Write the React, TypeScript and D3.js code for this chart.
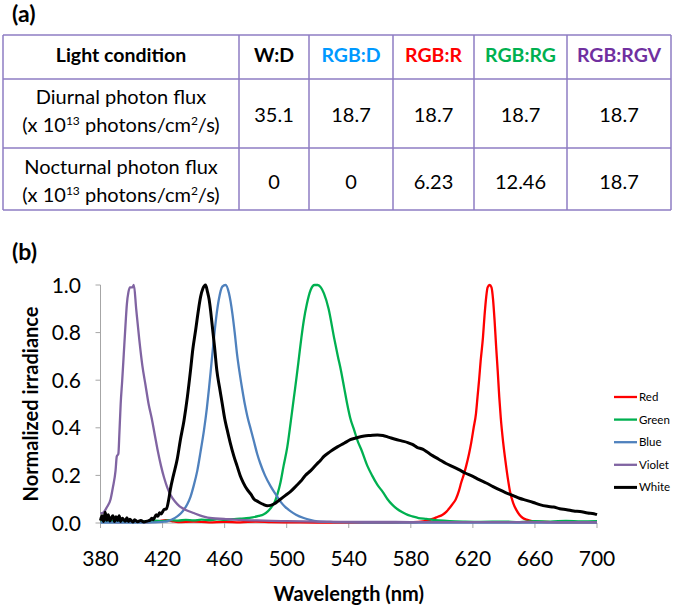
import React from 'react';
import * as d3 from 'd3';

const FONT = 'Lato, "Open Sans", "DejaVu Sans", sans-serif';

// ---- table data ----
const tableColumns = ['Light condition', 'W:D', 'RGB:D', 'RGB:R', 'RGB:RG', 'RGB:RGV'];
const columnColors = ['#000000', '#000000', '#0099ff', '#ff0000', '#00b050', '#7030a0'];
const rowLabels = ['Diurnal photon flux', 'Nocturnal photon flux'];
const diurnalFlux = ['35.1', '18.7', '18.7', '18.7', '18.7'];
const nocturnalFlux = ['0', '0', '6.23', '12.46', '18.7'];

// ---- chart axes ----
const xTicks = [380, 420, 460, 500, 540, 580, 620, 660, 700];
const yTicks = [0, 0.2, 0.4, 0.6, 0.8, 1.0];

// ---- spectra [wavelength nm, normalized irradiance] ----
const redSpectrum: [number, number][] = [
  [380, 0.01], [390, 0.004], [400, 0.006], [410, 0.004], [418, 0.008], [422, 0.012], [426, 0.008], [430, 0.004],
  [440, 0.006], [450, 0.003], [460, 0.005], [470, 0.003], [480, 0.006], [490, 0.004], [500, 0.003], [520, 0.002],
  [540, 0.002], [560, 0.002], [575, 0.003], [585, 0.005], [590, 0.009], [594, 0.017], [597, 0.025], [600.5, 0.035],
  [603, 0.048], [605, 0.063], [607, 0.08], [609, 0.1], [611, 0.135], [612.5, 0.17], [614, 0.2], [615.7, 0.24],
  [617.5, 0.29], [619, 0.34], [620.5, 0.4], [622, 0.46], [623, 0.53], [624, 0.6], [625, 0.68], [626.5, 0.78],
  [627.5, 0.87], [628.6, 0.95], [629.5, 0.99], [630.8, 1.0], [632, 0.99], [633, 0.94], [634, 0.85], [635, 0.74],
  [636, 0.64], [637, 0.53], [638, 0.44], [639.5, 0.34], [641, 0.26], [642.7, 0.18], [644, 0.13], [646, 0.084],
  [648, 0.055], [650, 0.035], [652, 0.022], [654.6, 0.014], [658, 0.008], [661, 0.006], [670, 0.004], [680, 0.003],
  [690, 0.003], [700, 0.003],
];

const greenSpectrum: [number, number][] = [
  [380, 0.008], [385, 0.005], [390, 0.01], [395, 0.006], [400, 0.008], [405, 0.005], [410, 0.007], [415, 0.01],
  [420, 0.008], [425, 0.012], [430, 0.01], [435, 0.013], [440, 0.011], [445, 0.014], [450, 0.012], [455, 0.015],
  [460, 0.013], [465, 0.016], [470, 0.018], [474, 0.02], [478, 0.024], [482, 0.03], [485, 0.036], [488, 0.05],
  [490, 0.065], [492, 0.084], [494, 0.12], [496, 0.17], [498, 0.24], [500.4, 0.32], [502.5, 0.42], [504.7, 0.53],
  [506.5, 0.62], [508, 0.7], [509.5, 0.78], [511, 0.85], [513, 0.92], [515.5, 0.98], [518, 1.0], [520, 1.0],
  [522, 0.99], [524, 0.965], [527, 0.9], [530.5, 0.78], [533, 0.7], [535, 0.64], [537, 0.57], [539, 0.5],
  [541, 0.44], [543.5, 0.39], [546, 0.34], [548, 0.31], [552, 0.24], [555, 0.2], [558.5, 0.16], [562, 0.13],
  [565, 0.1], [568, 0.077], [571, 0.06], [574.6, 0.045], [578, 0.034], [581, 0.028], [585, 0.021], [590, 0.017],
  [598, 0.011], [605, 0.008], [615, 0.006], [625, 0.005], [640, 0.006], [650, 0.004], [660, 0.008], [670, 0.006],
  [680, 0.009], [690, 0.007], [700, 0.008],
];

const blueSpectrum: [number, number][] = [
  [380, 0.002], [400, 0.002], [415, 0.003], [420, 0.005], [423, 0.007], [426, 0.015], [429.5, 0.028], [432, 0.042],
  [433.8, 0.056], [436, 0.08], [438, 0.11], [440, 0.155], [442.4, 0.22], [444.5, 0.3], [446.7, 0.39], [448.5, 0.48],
  [450, 0.57], [451.5, 0.67], [453, 0.77], [454.5, 0.86], [456.3, 0.94], [458.5, 0.993], [460.6, 1.0], [462.8, 0.965],
  [465, 0.88], [466.5, 0.8], [468, 0.71], [469.7, 0.63], [471.4, 0.56], [473, 0.5], [474.6, 0.45], [477, 0.39],
  [479, 0.34], [481, 0.29], [483, 0.25], [486, 0.2], [489.7, 0.154], [493, 0.12], [496, 0.09], [499, 0.068],
  [502.6, 0.049], [506, 0.035], [511, 0.021], [515, 0.013], [520, 0.007], [530, 0.004], [550, 0.002], [600, 0.002],
  [700, 0.002],
];

const violetSpectrum: [number, number][] = [
  [380, 0.04], [382, 0.045], [384, 0.065], [386.5, 0.1], [388, 0.15], [389.7, 0.22], [390.5, 0.28], [391.5, 0.29],
  [392.2, 0.38], [393, 0.5], [394, 0.6], [395, 0.71], [396, 0.82], [397, 0.92], [398, 0.97], [399, 0.99],
  [400.5, 0.99], [401.5, 1.0], [403, 0.9], [405, 0.77], [407, 0.66], [409, 0.58], [411, 0.5], [413, 0.44],
  [415, 0.37], [417, 0.3], [419, 0.24], [421, 0.19], [423, 0.15], [425, 0.12], [428, 0.09], [431, 0.07],
  [435, 0.055], [440, 0.042], [446, 0.028], [452, 0.02], [459.6, 0.017], [466, 0.014], [473, 0.012], [481, 0.011],
  [490, 0.009], [500, 0.008], [520, 0.006], [540, 0.005], [560, 0.005], [580, 0.004], [600, 0.004], [620, 0.004],
  [640, 0.004], [660, 0.004], [680, 0.004], [700, 0.004],
];

const whiteSpectrum: [number, number][] = [
  [380, 0.01], [381, 0.03], [382, 0.006], [383, 0.045], [384, 0.012], [385, 0.035], [386, 0.008], [387, 0.022],
  [388, 0.03], [389, 0.006], [390, 0.026], [391, 0.01], [392, 0.03], [393, 0.006], [394, 0.02], [395, 0.014],
  [396, 0.007], [397, 0.022], [398, 0.006], [399, 0.016], [400, 0.009], [401, 0.004], [402, 0.014], [404, 0.005],
  [406, 0.011], [408, 0.004], [410, 0.008], [412, 0.012], [413, 0.02], [414, 0.014], [416, 0.035], [417, 0.028],
  [418, 0.043], [419, 0.038], [420.9, 0.056], [422.5, 0.06], [424, 0.1], [425, 0.14], [427, 0.2], [429.5, 0.27],
  [431.5, 0.35], [433.8, 0.43], [436, 0.53], [438, 0.64], [439.5, 0.73], [441.3, 0.81], [443, 0.89], [444.5, 0.95],
  [446, 0.985], [447.7, 1.0], [449, 0.97], [450, 0.94], [451, 0.89], [452, 0.83], [453.5, 0.74], [455, 0.64],
  [456.7, 0.57], [458.5, 0.5], [460, 0.44], [461.7, 0.39], [463.5, 0.34], [466, 0.28], [468, 0.24], [470, 0.2],
  [472, 0.17], [474.6, 0.14], [477, 0.12], [479, 0.1], [481, 0.092], [483, 0.084], [485, 0.078], [487.5, 0.073],
  [489.5, 0.074], [492, 0.081], [494, 0.09], [496, 0.1], [499, 0.115], [502.6, 0.133], [506, 0.155], [509, 0.175],
  [512, 0.2], [515.5, 0.22], [519, 0.245], [522, 0.265], [524, 0.28], [528, 0.3], [532.7, 0.32], [537, 0.335],
  [541, 0.35], [545, 0.358], [550, 0.366], [554, 0.368], [558.5, 0.37], [562, 0.368], [566, 0.36], [570, 0.352],
  [574, 0.345], [578, 0.338], [581, 0.33], [584, 0.318], [587.6, 0.31], [591, 0.296], [594, 0.283], [598, 0.268],
  [602.7, 0.25], [607, 0.237], [611, 0.224], [615, 0.21], [620, 0.196], [624, 0.182], [628.6, 0.168], [633, 0.153],
  [637, 0.14], [641, 0.128], [646, 0.115], [650, 0.104], [654.6, 0.095], [659, 0.086], [663, 0.077], [668, 0.07],
  [672, 0.067], [676, 0.06], [680.5, 0.056], [685, 0.05], [689, 0.048], [694, 0.042], [698, 0.039], [700, 0.035],
];

const seriesNames = ['Red', 'Green', 'Blue', 'Violet', 'White'];
const seriesColors = ['#ff0000', '#00b050', '#4f81bd', '#8064a2', '#000000'];
const seriesData = [redSpectrum, greenSpectrum, blueSpectrum, violetSpectrum, whiteSpectrum];

// ---- layout ----
const colEdges = [3, 239, 309, 393, 474, 567, 671];
const rowEdges = [35, 79, 148, 210];
const BORDER = '#8e7cc3';

function FluxLabel({ x, y, title }: { x: number; y: number; title: string }) {
  return (
    <text x={x} y={y} textAnchor="middle" fontSize={20} fontFamily={FONT} fill="#000">
      <tspan x={x} y={y}>{title}</tspan>
      <tspan x={x} y={y + 28}>(x 10</tspan>
      <tspan dy={-7} fontSize={12}>13</tspan>
      <tspan dy={7}> photons/cm</tspan>
      <tspan dy={-7} fontSize={12}>2</tspan>
      <tspan dy={7}>/s)</tspan>
    </text>
  );
}

export default function App() {
  const x = d3.scaleLinear().domain([380, 700]).range([100.5, 597]);
  const y = d3.scaleLinear().domain([0, 1]).range([523, 285]);
  const line = d3
    .line<[number, number]>()
    .x((d) => x(d[0]))
    .y((d) => y(d[1]))
    .curve(d3.curveMonotoneX);

  const colCenter = (i: number) => (colEdges[i] + colEdges[i + 1]) / 2;
  const rows = [diurnalFlux, nocturnalFlux];

  return (
    <svg width={675} height={606} style={{ position: 'absolute', left: 0, top: 0, background: '#fff' }} fontFamily={FONT}>
      <rect x={0} y={0} width={675} height={606} fill="#fff" />
      {/* (a) */}
      <text x={12} y={22} fontSize={23} fontWeight="bold">(a)</text>

      {/* table grid */}
      {rowEdges.map((ry, i) => (
        <line key={'r' + i} x1={colEdges[0]} x2={colEdges[colEdges.length - 1]} y1={ry} y2={ry} stroke={BORDER} strokeWidth={1.5} />
      ))}
      {colEdges.map((cx, i) => (
        <line key={'c' + i} x1={cx} x2={cx} y1={rowEdges[0]} y2={rowEdges[rowEdges.length - 1]} stroke={BORDER} strokeWidth={1.5} />
      ))}
      {tableColumns.map((c, i) => (
        <text key={c} x={colCenter(i)} y={62} textAnchor="middle" fontSize={19.5} fontWeight="bold" fill={columnColors[i]}>
          {c}
        </text>
      ))}
      <FluxLabel x={colCenter(0)} y={104} title={rowLabels[0]} />
      <FluxLabel x={colCenter(0)} y={174} title={rowLabels[1]} />
      {rows.map((vals, r) =>
        vals.map((v, i) => (
          <text key={r + '-' + i} x={colCenter(i + 1)} y={r === 0 ? 122 : 189} textAnchor="middle" fontSize={20} fill="#000">
            {v}
          </text>
        ))
      )}

      {/* (b) */}
      <text x={12} y={260} fontSize={23} fontWeight="bold">(b)</text>

      {/* axes */}
      <line x1={x(380)} x2={x(380)} y1={y(1)} y2={y(0)} stroke="#a6a6a6" strokeWidth={1} />
      <line x1={x(380)} x2={x(700)} y1={y(0)} y2={y(0)} stroke="#a6a6a6" strokeWidth={1} />
      {yTicks.map((t) => (
        <g key={'yt' + t}>
          <line x1={x(380) - 5} x2={x(380)} y1={y(t)} y2={y(t)} stroke="#a6a6a6" />
          <text x={81} y={y(t)} dy="0.36em" textAnchor="end" fontSize={21} fill="#000">
            {t.toFixed(1)}
          </text>
        </g>
      ))}
      {xTicks.map((t) => (
        <g key={'xt' + t}>
          <line x1={x(t)} x2={x(t)} y1={y(0)} y2={y(0) + 5} stroke="#a6a6a6" />
          <text x={x(t)} y={566} textAnchor="middle" fontSize={21} fill="#000">
            {t}
          </text>
        </g>
      ))}
      <text x={(x(380) + x(700)) / 2} y={601} textAnchor="middle" fontSize={20} fontWeight="bold">
        Wavelength (nm)
      </text>
      <text transform={`translate(38, ${(y(0) + y(1)) / 2}) rotate(-90)`} textAnchor="middle" fontSize={20} fontWeight="bold">
        Normalized irradiance
      </text>

      {/* series */}
      {seriesData.map((d, i) => (
        <path key={seriesNames[i]} d={line(d) || ''} fill="none" stroke={seriesColors[i]} strokeWidth={i === 4 ? 3 : 2.3} strokeLinejoin="round" />
      ))}

      {/* legend */}
      {seriesNames.map((n, i) => (
        <g key={'lg' + n} transform={`translate(614, ${397 + i * 22.6})`}>
          <line x1={0} x2={23} y1={0} y2={0} stroke={seriesColors[i]} strokeWidth={i === 4 ? 3 : 2.3} />
          <text x={25} y={0} dy="0.35em" fontSize={11.5} fill="#000">
            {n}
          </text>
        </g>
      ))}
    </svg>
  );
}
